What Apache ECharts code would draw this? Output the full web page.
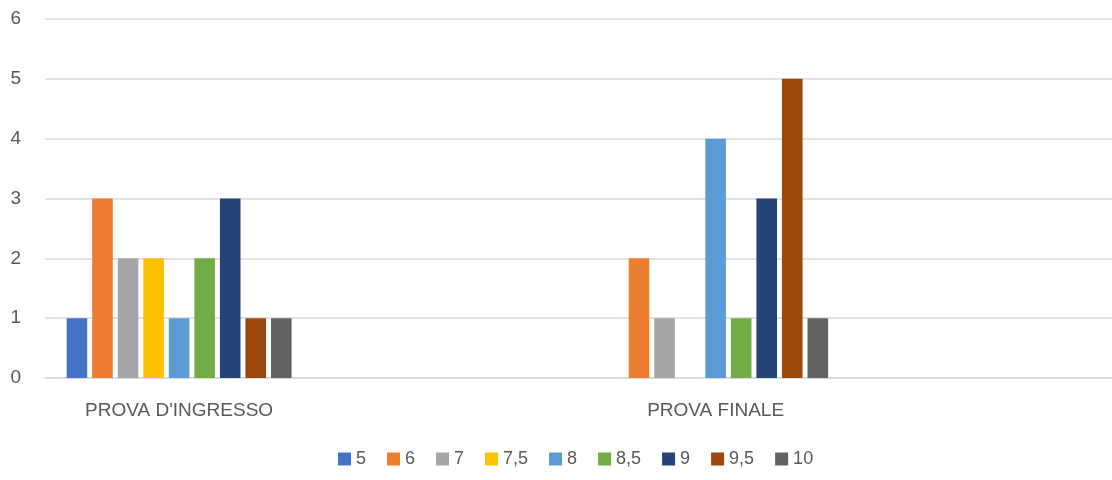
<!DOCTYPE html>
<html>
<head>
<meta charset="utf-8">
<script src="https://cdn.jsdelivr.net/npm/echarts@6/dist/echarts.min.js"></script>
<style>
html,body{margin:0;padding:0;background:#fff;}
#chart{width:1112px;height:480px;}
</style>
</head>
<body>
<div id="chart"></div>
<script>
// Categories (the two empty slots are blank columns in the source range)
const categories = ["PROVA D'INGRESSO", "", "PROVA FINALE", ""];
const seriesNames = ["5", "6", "7", "7,5", "8", "8,5", "9", "9,5", "10"];
const s5   = [1, null, 0, null];
const s6   = [3, null, 2, null];
const s7   = [2, null, 1, null];
const s7_5 = [2, null, 0, null];
const s8   = [1, null, 4, null];
const s8_5 = [2, null, 1, null];
const s9   = [3, null, 3, null];
const s9_5 = [1, null, 5, null];
const s10  = [1, null, 1, null];
const yTicks = [0, 1, 2, 3, 4, 5, 6];

const seriesData = [s5, s6, s7, s7_5, s8, s8_5, s9, s9_5, s10];
const colors = ['#4472C4', '#ED7D31', '#A5A5A5', '#FFC000', '#5B9BD5', '#70AD47', '#264478', '#9E480E', '#636363'];

const chart = echarts.init(document.getElementById('chart'), null, {renderer: 'canvas'});
const font = '"Liberation Sans", Arial, sans-serif';

chart.setOption({
  animation: false,
  color: colors,
  grid: {left: 45, top: 19, bottom: 102, width: 1073, containLabel: false, outerBoundsMode: 'none'},
  legend: {
    left: 338,
    top: 450,
    padding: 0,
    itemWidth: 13,
    itemHeight: 13,
    itemGap: 21,
    icon: 'rect',
    textStyle: {color: '#595959', fontSize: 18, fontFamily: font},
    data: seriesNames
  },
  xAxis: {
    type: 'category',
    data: categories,
    axisLine: {show: true, lineStyle: {color: '#D9D9D9', width: 1.5}},
    axisTick: {show: false},
    axisLabel: {color: '#595959', fontSize: 19, fontFamily: font, margin: 23, interval: 0}
  },
  yAxis: {
    type: 'value',
    min: yTicks[0],
    max: yTicks[yTicks.length - 1],
    interval: 1,
    axisLine: {show: false},
    axisTick: {show: false},
    splitLine: {lineStyle: {color: '#D9D9D9', width: 1.5}},
    axisLabel: {color: '#595959', fontSize: 19, fontFamily: font, margin: 24}
  },
  series: seriesNames.map((name, i) => ({
    name: name,
    type: 'bar',
    data: seriesData[i],
    barWidth: 20.6,
    barGap: '24%',
    itemStyle: {color: colors[i]}
  }))
});
</script>
</body>
</html>
